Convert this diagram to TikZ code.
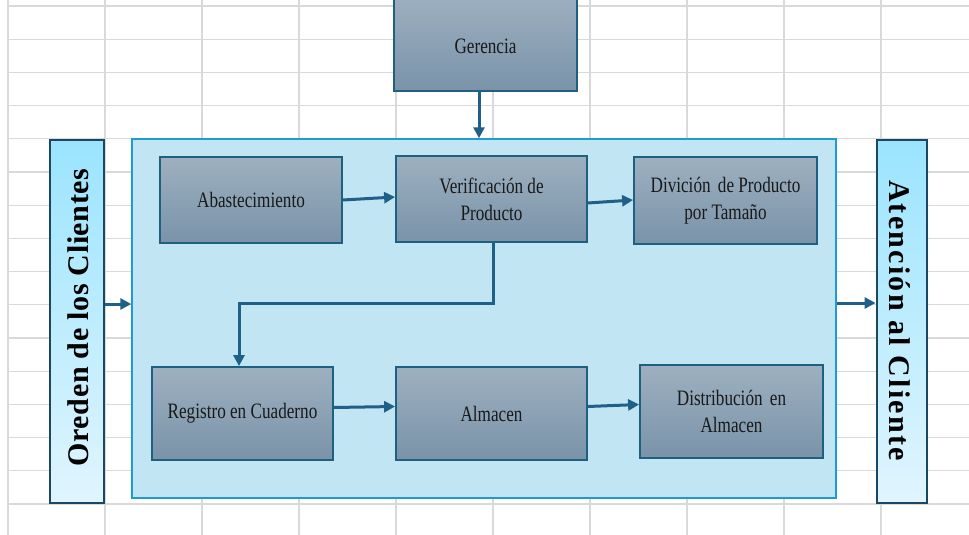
\documentclass[tikz,border=0pt]{standalone}
\usepackage{fontspec}
\setmainfont{Liberation Serif}
\newfontfamily\boxfont[FakeStretch=0.78]{Liberation Serif}
\newfontfamily\barfontL[LetterSpace=2]{Liberation Serif Bold}
\newfontfamily\barfontR[LetterSpace=7.5]{Liberation Serif Bold}
\usetikzlibrary{arrows.meta,calc}
\definecolor{gridc}{HTML}{D9D9D9}
\definecolor{boxtop}{HTML}{9DB0C0}
\definecolor{boxbot}{HTML}{7A93A9}
\definecolor{boxline}{HTML}{1F5F80}
\definecolor{contfill}{HTML}{C2E5F4}
\definecolor{contline}{HTML}{1C9BD6}
\definecolor{bartop}{HTML}{9BE4FE}
\definecolor{barbot}{HTML}{E0F5FE}
\definecolor{barline}{HTML}{1A4862}
\definecolor{arrc}{HTML}{1F6088}
\tikzset{
  procbox/.style={shade, top color=boxtop, bottom color=boxbot, draw=boxline,
    line width=1.8pt, inner sep=0pt, align=center,
    font=\boxfont\fontsize{22}{27}\selectfont, text=black!90},
  sidebar/.style={shade, top color=bartop, bottom color=barbot, draw=barline,
    line width=2.8pt, inner sep=0pt},
  bartext/.style={inner sep=0pt, text=black},
  flowarr/.style={draw=arrc, line width=3pt, -{Triangle[length=11pt,width=11pt]}},
  gridline/.style={draw=gridc, line width=1.3pt}
}
\begin{document}
\begin{tikzpicture}[x=1pt,y=-1pt]
\useasboundingbox (0,0) rectangle (969,535);
\clip (0,0) rectangle (969,535);
% spreadsheet grid
\foreach \k in {0,...,15} {\draw[gridline] (8,{6+33.2*\k}) -- (969,{6+33.2*\k});}
\foreach \k in {0,...,9} {\draw[gridline] ({8+97*\k},0) -- ({8+97*\k},535);}
% container
\node[fill=contfill, draw=contline, line width=1.5pt, minimum width=704pt,
  minimum height=359pt, inner sep=0pt] (cont) at (484,318.5) {};
% top box
\node[procbox, minimum width=183pt, minimum height=96pt] (ger) at (485.5,43) {\raisebox{-11pt}[0pt][0pt]{Gerencia}};
% side bars
\node[sidebar, minimum width=54pt, minimum height=363pt] (lbar) at (77,321.5) {};
\node[sidebar, minimum width=50pt, minimum height=363pt] (rbar) at (902,321.5) {};
\node[bartext, rotate=90, font=\barfontL\fontsize{30}{34}\selectfont] (ltext) at (78,317.5) {Oreden de los Clientes};
\node[bartext, rotate=-90, font=\barfontR\fontsize{30}{34}\selectfont] (rtext) at (900,320.5) {Atención al Cliente};
% process boxes
\node[procbox, minimum width=182pt, minimum height=86pt] (abast) at (251,200) {Abastecimiento};
\node[procbox, minimum width=191pt, minimum height=86pt] (verif) at (491.5,199) {Verificación de\\Producto};
\node[procbox, minimum width=183pt, minimum height=87pt] (divi) at (725.5,200.5) {Divición\hspace{3pt} de Producto\\por Tamaño};
\node[procbox, minimum width=181pt, minimum height=93pt] (reg) at (242.5,413.5) {Registro en Cuaderno};
\node[procbox, minimum width=191pt, minimum height=93pt] (alm) at (491.5,413.5) {Almacen};
\node[procbox, minimum width=183pt, minimum height=93pt] (dist) at (731.5,411.5) {Distribución\hspace{3pt} en\\Almacen};
% connectors
\draw[flowarr] ([xshift=-6.5pt]ger.south) -- ([xshift=-6.5pt]ger.south |- cont.north);
\draw[flowarr] ([yshift=17.5pt]lbar.east) -- ([yshift=17.5pt]lbar.east -| cont.west);
\draw[flowarr] ([yshift=18.5pt]cont.east |- rbar.west) -- ([yshift=18.5pt]rbar.west);
\draw[flowarr] (abast.east) -- ([yshift=2pt]verif.west);
\draw[flowarr] ([yshift=-4pt]verif.east) -- ([yshift=0.5pt]divi.west);
\draw[flowarr] ([xshift=1.5pt]verif.south) -- ++(0,61) -| ([xshift=-3.5pt]reg.north);
\draw[flowarr] ([yshift=6pt]reg.east) -- ([yshift=7pt]alm.west);
\draw[flowarr] ([yshift=7pt]alm.east) -- ([yshift=7pt]dist.west);
\end{tikzpicture}
\end{document}
